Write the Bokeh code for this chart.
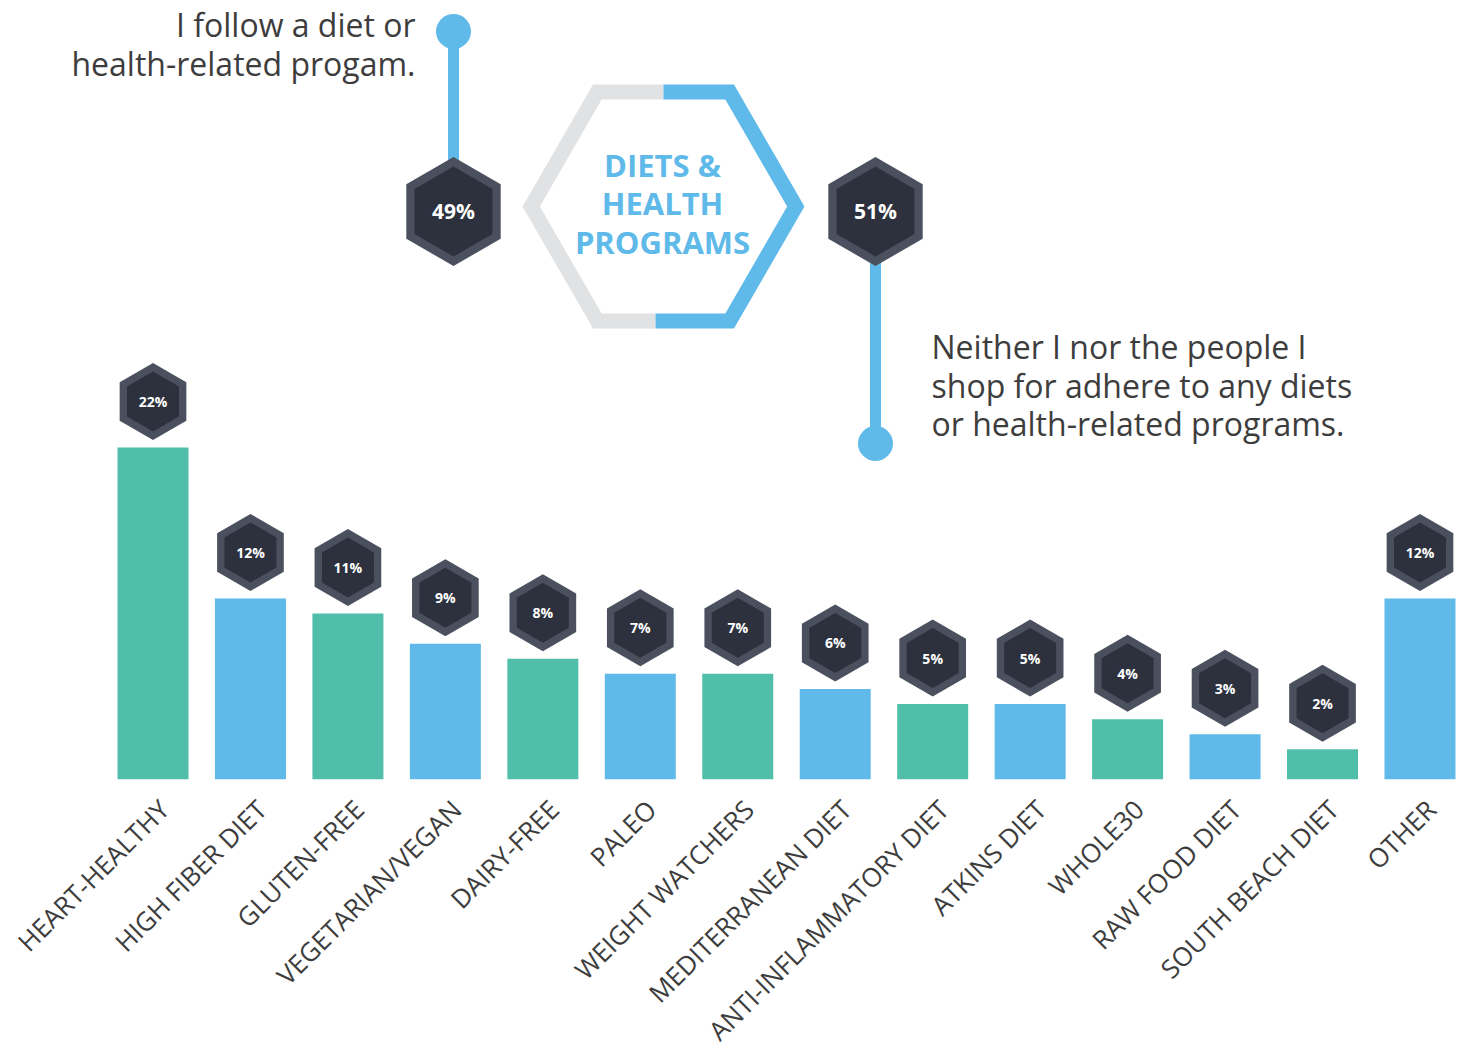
import numpy as np
from bokeh.plotting import figure
from bokeh.models import Range1d, FixedTicker
from bokeh.core.properties import value
from bokeh.embed import file_html
from bokeh.resources import INLINE

# ---------------- data ----------------
categories = ["HEART-HEALTHY", "HIGH FIBER DIET", "GLUTEN-FREE", "VEGETARIAN/VEGAN",
              "DAIRY-FREE", "PALEO", "WEIGHT WATCHERS", "MEDITERRANEAN DIET",
              "ANTI-INFLAMMATORY DIET", "ATKINS DIET", "WHOLE30", "RAW FOOD DIET",
              "SOUTH BEACH DIET", "OTHER"]
shares = [22, 12, 11, 9, 8, 7, 7, 6, 5, 5, 4, 3, 2, 12]

program_groups = ["follow", "none"]
program_shares = [49, 51]
follow_text = ["I follow a diet or", "health-related progam."]
none_text = ["Neither I nor the people I", "shop for adhere to any diets", "or health-related programs."]
title_lines = ["DIETS &", "HEALTH", "PROGRAMS"]

# ---------------- style / layout ----------------
TEAL = "#50bea9"
BLUE = "#5fbae9"
GREY = "#e1e2e4"
HEX_OUT = "#4a505e"
HEX_IN = "#2c313d"
TXT = "#3d3d3d"
FONT = "Open Sans"

FW, FH = 1460, 779
PX_PER_PCT = 15.09
STEP = 97.46
FIRST = 152.5
LABEL_DX = 11 / STEP

n = len(categories)
idx = np.arange(n)
x0 = -FIRST / STEP
p = figure(frame_width=FW, frame_height=FH,
           x_range=Range1d(x0, x0 + FW / STEP),
           y_range=Range1d(0, FH / PX_PER_PCT),
           output_backend="svg", toolbar_location=None,
           y_axis_location=None, min_border=0)
p.extra_x_ranges = {"px": Range1d(0, FW)}
p.extra_y_ranges = {"px": Range1d(FH, 0)}
p.outline_line_color = None
p.xgrid.visible = False
p.ygrid.visible = False
p.background_fill_color = "white"
p.border_fill_color = "white"

tick_pos = [round(float(i) + LABEL_DX, 4) for i in idx]
ax = p.xaxis[0]
ax.ticker = FixedTicker(ticks=tick_pos)
ax.major_label_overrides = {t: c for t, c in zip(tick_pos, categories)}
ax.major_label_orientation = np.pi / 4
ax.major_label_text_font = FONT
ax.major_label_text_font_size = "26px"
ax.major_label_text_color = TXT
ax.major_label_standoff = 19
ax.axis_line_color = None
ax.major_tick_line_color = None
ax.minor_tick_line_color = None

# ---------------- bars ----------------
colors = [TEAL if i % 2 == 0 else BLUE for i in idx]
p.vbar(x=idx, top=shares, bottom=0, width=71 / STEP, fill_color=colors, line_color=None)

badge_y = np.array(shares) + 46 / PX_PER_PCT
p.scatter(x=idx, y=badge_y, marker="hex", angle=np.pi / 6, size=77,
          fill_color=HEX_OUT, line_color=None)
p.scatter(x=idx, y=badge_y, marker="hex", angle=np.pi / 6, size=60,
          fill_color=HEX_IN, line_color=None)
p.text(x=idx, y=badge_y, text=[f"{v}%" for v in shares],
       text_align="center", text_baseline="middle", text_color="white",
       text_font=value(FONT), text_font_style="bold", text_font_size="14px")

# ---------------- header ring ----------------
CX, CY, R = 663, 206, 132.3


def ring_path(cx, cy, r, f0, f1):
    h = r * np.sqrt(3) / 2
    pts = np.array([(cx, cy - h), (cx + r / 2, cy - h), (cx + r, cy), (cx + r / 2, cy + h),
                    (cx - r / 2, cy + h), (cx - r, cy), (cx - r / 2, cy - h), (cx, cy - h)])
    seg = np.hypot(np.diff(pts[:, 0]), np.diff(pts[:, 1]))
    cum = np.concatenate([[0], np.cumsum(seg)])
    total = cum[-1]

    def at(d):
        i = min(int(np.searchsorted(cum, d, side="right") - 1), len(seg) - 1)
        t = (d - cum[i]) / seg[i]
        return pts[i] + t * (pts[i + 1] - pts[i])

    a, b = f0 * total, f1 * total
    out = [at(a)]
    for k in range(1, len(pts) - 1):
        if a < cum[k] < b:
            out.append(pts[k])
    out.append(at(b))
    out = np.array(out)
    return out[:, 0], out[:, 1]


f_blue = program_shares[1] / sum(program_shares)
bx, by = ring_path(CX, CY, R, 0, f_blue)
gx, gy = ring_path(CX, CY, R, f_blue, 1)
p.line(gx, gy, line_color=GREY, line_width=15, line_join="miter", line_cap="butt",
       x_range_name="px", y_range_name="px")
p.line(bx, by, line_color=BLUE, line_width=15, line_join="miter", line_cap="butt",
       x_range_name="px", y_range_name="px")

p.text(x=[662] * 3, y=[164 + 38.5 * i for i in range(3)], text=title_lines,
       text_align="center", text_baseline="alphabetic", text_color=BLUE,
       text_font=value(FONT), text_font_style="bold", text_font_size="31px",
       x_range_name="px", y_range_name="px")

# connectors + header badges
hx = [453, 875]
hy = [211, 211]
dot_y = [31, 443]
p.segment(x0=hx, y0=hy, x1=hx, y1=dot_y, line_color=BLUE, line_width=11,
          x_range_name="px", y_range_name="px")
p.scatter(x=hx, y=dot_y, marker="circle", size=35, fill_color=BLUE, line_color=None,
          x_range_name="px", y_range_name="px")
p.scatter(x=hx, y=hy, marker="hex", angle=np.pi / 6, size=109, fill_color=HEX_OUT,
          line_color=None, x_range_name="px", y_range_name="px")
p.scatter(x=hx, y=hy, marker="hex", angle=np.pi / 6, size=90, fill_color=HEX_IN,
          line_color=None, x_range_name="px", y_range_name="px")
p.text(x=hx, y=[v - 1 for v in hy], text=[f"{v}%" for v in program_shares],
       text_align="center", text_baseline="middle", text_color="white",
       text_font=value(FONT), text_font_style="bold", text_font_size="21px",
       x_range_name="px", y_range_name="px")

p.text(x=[415] * len(follow_text), y=[24 + 38.5 * i for i in range(len(follow_text))],
       text=follow_text, text_align="right", text_baseline="alphabetic",
       text_color=TXT, text_font=value(FONT), text_font_size="32px",
       x_range_name="px", y_range_name="px")
p.text(x=[931] * len(none_text), y=[346 + 38.5 * i for i in range(len(none_text))],
       text=none_text, text_align="left", text_baseline="alphabetic",
       text_color=TXT, text_font=value(FONT), text_font_size="32px",
       x_range_name="px", y_range_name="px")

open("out.html", "w").write(file_html(p, INLINE))
